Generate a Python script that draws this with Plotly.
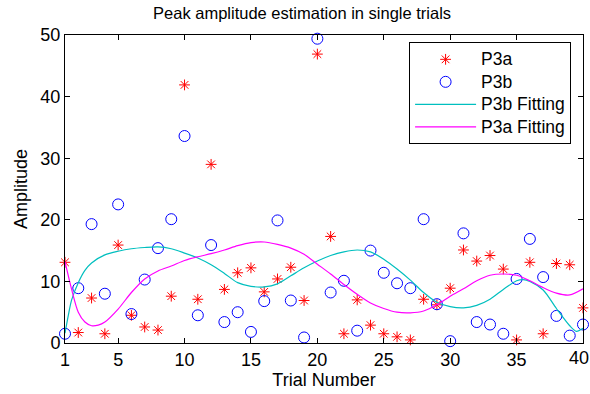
import plotly.graph_objects as go

trials = list(range(1, 41))

p3a = [13.1, 1.7, 7.3, 1.5, 15.9, 4.5, 2.6, 2.1, 7.6, 41.9,
       7.1, 29.0, 8.7, 11.4, 12.2, 8.3, 10.4, 12.3, 6.9, 46.9,
       17.3, 1.5, 7.0, 2.9, 1.5, 1.0, 0.5, 7.1, 6.2, 8.9,
       15.1, 13.3, 14.2, 12.0, 0.5, 13.1, 1.5, 12.9, 12.7, 5.7]

p3b = [1.5, 8.9, 19.3, 8.0, 22.5, 4.7, 10.3, 15.4, 20.1, 33.6,
       4.5, 15.9, 3.4, 5.0, 1.8, 6.8, 19.9, 6.9, 0.9, 49.4,
       8.2, 10.1, 2.0, 15.0, 11.4, 9.7, 8.9, 20.1, 6.3, 0.3,
       17.8, 3.4, 3.0, 1.5, 10.4, 16.9, 10.7, 4.4, 1.2, 3.0]

fit_b_x = [1, 1.25, 1.5, 2, 2.5, 3, 4, 5, 6, 7, 8, 9, 10, 11, 12, 13, 14, 15, 16, 17,
           18, 19, 20, 21, 22, 23, 24, 25, 26, 27, 28, 29, 30, 31, 32, 33, 34, 35,
           35.5, 36, 37, 38, 39, 39.5, 40]
fit_b_y = [1.6, 4.5, 7.0, 9.8, 11.8, 13.0, 14.3, 14.9, 15.3, 15.5, 15.6, 15.3, 14.6, 13.8,
           12.7, 11.3, 9.8, 9.2, 9.1, 9.6, 10.9, 12.2, 13.3, 14.2, 14.8, 15.1, 14.8, 13.6,
           12.0, 10.2, 8.2, 6.6, 5.9, 5.7, 6.1, 7.1, 8.7, 10.1, 10.3, 10.0, 8.6, 5.6, 2.8,
           1.9, 2.4]

fit_a_x = [1, 1.5, 2, 2.5, 3, 3.5, 4, 5, 6, 7, 8, 9, 10, 11, 12, 13, 14, 15, 16, 17, 18,
           19, 20, 21, 22, 23, 24, 25, 26, 27, 28, 29, 30, 31, 32, 33, 34, 35, 36, 37,
           38, 39, 40]
fit_a_y = [13.2, 8.7, 5.0, 3.4, 2.8, 2.9, 3.4, 5.5, 8.2, 10.4, 11.7, 12.5, 13.4, 14.0,
           14.5, 15.1, 15.8, 16.3, 16.4, 16.0, 15.4, 14.4, 12.8, 11.2, 9.5, 7.9, 6.5, 5.6,
           5.0, 4.9, 5.2, 6.2, 7.6, 8.8, 10.1, 11.0, 11.2, 11.0, 10.1, 9.0, 8.1, 7.8, 8.8]

x_ticks = [1, 5, 10, 15, 20, 25, 30, 35, 40]
y_ticks = [0, 10, 20, 30, 40, 50]

FONT = "Liberation Sans, Arial, Helvetica, sans-serif"


def big(label):
    return '<span style="font-size:17.5px">' + label + '</span>'


fig = go.Figure()
fig.add_trace(go.Scatter(
    x=trials, y=p3a, mode="markers", name=big("P3a"), cliponaxis=False,
    marker=dict(symbol="asterisk-open", size=9, color="#ff0000",
                line=dict(color="#ff0000", width=1))))
fig.add_trace(go.Scatter(
    x=trials, y=p3b, mode="markers", name=big("P3b"), cliponaxis=False,
    marker=dict(symbol="circle-open", size=11, color="#0000ff",
                line=dict(color="#0000ff", width=1))))
fig.add_trace(go.Scatter(
    x=fit_b_x, y=fit_b_y, mode="lines", name=big("P3b Fitting"),
    line=dict(color="#00bfbf", width=1.2, shape="spline", smoothing=0.8)))
fig.add_trace(go.Scatter(
    x=fit_a_x, y=fit_a_y, mode="lines", name=big("P3a Fitting"),
    line=dict(color="#ff00ff", width=1.2, shape="spline", smoothing=0.8)))

axis_common = dict(
    showline=True, linecolor="black", linewidth=1, mirror="ticks",
    ticks="inside", ticklen=5, tickcolor="black", tickwidth=1,
    showgrid=False, zeroline=False, ticklabeloverflow="allow", automargin=False,
    tickfont=dict(family=FONT, size=18, color="black"),
)

# last x tick label is drawn as an annotation so it stays inside the page
x_ticktext = [str(v) for v in x_ticks[:-1]] + [""]

fig.update_xaxes(range=[0.9999, 40.0001], tickvals=x_ticks, ticktext=x_ticktext,
                 title=dict(text="Trial Number", font=dict(family=FONT, size=18, color="black"),
                            standoff=2),
                 **axis_common)
fig.update_yaxes(range=[0, 50.0001], tickvals=y_ticks, ticktext=[str(v) for v in y_ticks],
                 title=dict(text="Amplitude", font=dict(family=FONT, size=18, color="black"),
                            standoff=8),
                 **axis_common)

fig.add_annotation(x=x_ticks[-1], xref="x", y=0, yref="paper", text=str(x_ticks[-1]),
                   showarrow=False, xanchor="center", yanchor="top", xshift=-4, yshift=-3,
                   font=dict(family=FONT, size=18, color="black"))

fig.update_layout(
    width=590, height=394,
    margin=dict(l=65, r=7, t=35, b=51),
    paper_bgcolor="white", plot_bgcolor="white",
    font=dict(family=FONT, size=18, color="black"),
    title=dict(text="Peak amplitude estimation in single trials",
               font=dict(family=FONT, size=16.5, color="black"),
               x=0.512, xanchor="center", y=1 - 13 / 394, yanchor="middle"),
    showlegend=True,
    legend=dict(x=0.977, xanchor="right", y=0.977, yanchor="top",
                bordercolor="black", borderwidth=1, bgcolor="white",
                font=dict(family=FONT, size=15, color="black"),
                tracegroupgap=0, itemwidth=61),
)

fig.write_html("out.html")
